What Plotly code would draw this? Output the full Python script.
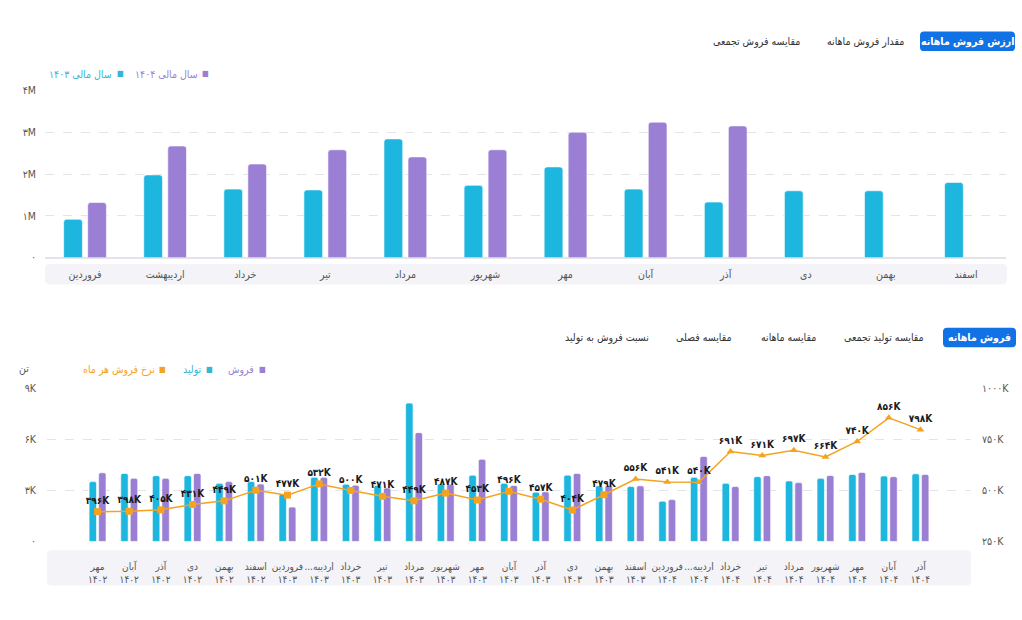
import plotly.graph_objects as go

W, H = 1022, 620
FONT = "DejaVu Sans Condensed, DejaVu Sans, sans-serif"

# ---------------- data ----------------
months_top = ["فروردین", "اردیبهشت", "خرداد", "تیر", "مرداد", "شهریور",
              "مهر", "آبان", "آذر", "دی", "بهمن", "اسفند"]
value_1403 = [0.92, 1.98, 1.64, 1.62, 2.84, 1.73, 2.17, 1.64, 1.33, 1.60, 1.60, 1.80]   # million
value_1404 = [1.32, 2.67, 2.24, 2.58, 2.41, 2.58, 3.00, 3.24, 3.15, None, None, None]
top_ticks = [0, 1, 2, 3, 4]

months_bottom = ["مهر", "آبان", "آذر", "دی", "بهمن", "اسفند",
                 "فروردین", "...اردیبه", "خرداد", "تیر", "مرداد", "شهریور", "مهر", "آبان", "آذر", "دی", "بهمن", "اسفند",
                 "فروردین", "...اردیبه", "خرداد", "تیر", "مرداد", "شهریور", "مهر", "آبان", "آذر"]
years_bottom = [1402] * 6 + [1403] * 12 + [1404] * 9
production = [3.52, 4.00, 3.87, 3.87, 3.42, 3.52, 2.79, 3.77, 3.37, 3.30, 8.14, 3.38, 3.90, 3.42,
              2.90, 3.90, 3.27, 3.23, 2.37, 3.77, 3.42, 3.81, 3.56, 3.71, 3.94, 3.85, 3.98]       # thousand ton
sales = [4.04, 3.71, 3.71, 4.00, 3.52, 3.38, 2.02, 3.77, 3.31, 3.15, 6.40, 3.37, 4.83, 3.29,
         2.92, 4.00, 3.29, 3.27, 2.46, 5.00, 3.23, 3.87, 3.46, 3.88, 4.06, 3.81, 3.94]
rate = [396, 398, 405, 431, 449, 501, 477, 532, 500, 471, 449, 487, 453, 496,
        457, 404, 479, 556, 541, 540, 691, 671, 697, 664, 740, 856, 798]                   # thousand
left_ticks = [0, 3, 6, 9]
right_ticks = [250, 500, 750, 1000]

# ---------------- styles ----------------
CYAN = "#1cb6df"
PURPLE = "#9a7fd4"
ORANGE = "#f5a31f"
BLUE = "#1172e6"
GRID = "#e3e3ea"
rate_symbols = ["square"] * 17 + ["triangle-up"] * 10

FA = str.maketrans("0123456789", "۰۱۲۳۴۵۶۷۸۹")


def fa(s):
    return str(s).translate(FA)


def px(x):
    return x / W


def py(y):
    return 1 - y / H


def rrect(x0, y0, x1, y1, r):
    rx, ry = r / W, r / H
    X0, X1, Y0, Y1 = px(x0), px(x1), py(y1), py(y0)
    return (f"M{X0+rx},{Y0} L{X1-rx},{Y0} Q{X1},{Y0} {X1},{Y0+ry} "
            f"L{X1},{Y1-ry} Q{X1},{Y1} {X1-rx},{Y1} L{X0+rx},{Y1} "
            f"Q{X0},{Y1} {X0},{Y1-ry} L{X0},{Y0+ry} Q{X0},{Y0} {X0+rx},{Y0} Z")


fig = go.Figure()

# ---------------- top chart ----------------
fig.add_trace(go.Bar(x=months_top, y=value_1403, name="سال مالی ۱۴۰۳", marker_color=CYAN,
                     marker_cornerradius=3, marker_line=dict(width=1, color="rgba(255,255,255,0.6)"),
                     xaxis="x", yaxis="y", showlegend=False))
fig.add_trace(go.Bar(x=months_top, y=value_1404, name="سال مالی ۱۴۰۴", marker_color=PURPLE,
                     marker_cornerradius=3, marker_line=dict(width=1, color="rgba(255,255,255,0.6)"),
                     xaxis="x", yaxis="y", showlegend=False))

# ---------------- bottom chart ----------------
cats_bottom = [f"{m}<br>{fa(y)}" for m, y in zip(months_bottom, years_bottom)]
fig.add_trace(go.Bar(x=cats_bottom, y=production, name="تولید", marker_color=CYAN,
                     marker_cornerradius=2, marker_line=dict(width=1, color="rgba(255,255,255,0.6)"),
                     xaxis="x2", yaxis="y2", showlegend=False))
fig.add_trace(go.Bar(x=cats_bottom, y=sales, name="فروش", marker_color=PURPLE,
                     marker_cornerradius=2, marker_line=dict(width=1, color="rgba(255,255,255,0.6)"),
                     xaxis="x2", yaxis="y2", showlegend=False))
fig.add_trace(go.Scatter(x=cats_bottom, y=rate, name="نرخ فروش هر ماه", mode="lines+markers+text",
                         line=dict(color=ORANGE, width=1.5),
                         marker=dict(color=ORANGE, size=7, symbol=rate_symbols),
                         text=[fa(v) + "K" for v in rate], textposition="top center",
                         textfont=dict(family=FONT, size=10, color="#1a1a1a", weight="bold"),
                         cliponaxis=False, xaxis="x2", yaxis="y3", showlegend=False))

axis_font = dict(family=FONT, size=10.5, color="#555")

fig.update_layout(
    width=W, height=H, margin=dict(l=0, r=0, t=0, b=0),
    paper_bgcolor="white", plot_bgcolor="white",
    barmode="group", bargap=0.4, bargroupgap=0.22,
    font=dict(family=FONT, size=11, color="#333"),
    xaxis=dict(domain=[px(45), px(1006)], anchor="y", type="category",
               showgrid=False, showline=False, zeroline=False, tickangle=0,
               ticks="outside", ticklen=7, tickcolor="rgba(0,0,0,0)", tickfont=axis_font),
    yaxis=dict(domain=[py(256.7), py(86)], anchor="x", range=[0, 4],
               tickvals=top_ticks, ticktext=[fa(v) + ("M" if v else "") for v in top_ticks],
               showgrid=True, gridcolor=GRID, griddash="dash", zeroline=True, zerolinecolor=GRID,
               zerolinewidth=1.5, ticks="", tickfont=axis_font, ticklabelstandoff=8),
    xaxis2=dict(domain=[px(47), px(971)], anchor="y2", type="category",
                showgrid=False, showline=False, zeroline=False, tickangle=0,
                ticks="outside", ticklen=16, tickcolor="rgba(0,0,0,0)",
                tickfont=dict(family=FONT, size=10, color="#555")),
    yaxis2=dict(domain=[py(546), py(390)], anchor="x2", range=[0, 9],
                tickvals=left_ticks, ticktext=[fa(v) + ("K" if v else "") for v in left_ticks],
                showgrid=True, gridcolor=GRID, griddash="dash", zeroline=False,
                ticks="", tickfont=axis_font, ticklabelstandoff=10),
    yaxis3=dict(overlaying="y2", anchor="x2", side="right", range=[250, 1000],
                tickvals=right_ticks, ticktext=[fa(v) + "K" for v in right_ticks],
                showgrid=False, zeroline=False, ticks="", tickfont=axis_font, ticklabelstandoff=10),
)

shapes = []
annotations = []

# label bands
shapes.append(dict(type="path", path=rrect(45, 263, 1007, 284, 5), xref="paper", yref="paper",
                   fillcolor="#f3f3f8", line_width=0, layer="below"))
shapes.append(dict(type="path", path=rrect(47, 555, 971, 591, 5), xref="paper", yref="paper",
                   fillcolor="#f3f3f8", line_width=0, layer="below"))


def button(x0, x1, yc, text, active):
    if active:
        shapes.append(dict(type="path", path=rrect(x0, yc - 10, x1, yc + 10, 4), xref="paper", yref="paper",
                           fillcolor=BLUE, line_width=0))
    annotations.append(dict(x=px((x0 + x1) / 2), y=py(yc), xref="paper", yref="paper", text=text,
                            showarrow=False, xanchor="center", yanchor="middle",
                            font=dict(family=FONT, size=10.5, color="white" if active else "#333",
                                      weight="bold" if active else "normal")))


# top buttons
button(920, 1015, 36, "ارزش فروش ماهانه", True)
button(826, 904, 36, "مقدار فروش ماهانه", False)
button(713, 800, 36, "مقایسه فروش تجمعی", False)
# bottom buttons
button(943, 1016, 338, "فروش ماهانه", True)
button(843, 925, 338, "مقایسه تولید تجمعی", False)
button(759, 817, 338, "مقایسه ماهانه", False)
button(676, 732, 338, "مقایسه فصلی", False)
button(565, 649, 338, "نسبت فروش به تولید", False)


def legend_item(x_sq, x_text_right, yc, text, color):
    annotations.append(dict(x=px(x_sq), y=py(yc), xref="paper", yref="paper", text="■",
                            showarrow=False, xanchor="center", yanchor="middle",
                            font=dict(family=FONT, size=8, color=color)))
    annotations.append(dict(x=px(x_text_right), y=py(yc), xref="paper", yref="paper", text=text,
                            showarrow=False, xanchor="right", yanchor="middle",
                            font=dict(family=FONT, size=10.5, color=color)))


legend_item(205, 200, 69, "سال مالی ۱۴۰۴", PURPLE)
legend_item(120, 114, 69, "سال مالی ۱۴۰۳", "#35b6d9")
legend_item(262, 256, 371, "فروش", PURPLE)
legend_item(209, 204, 371, "تولید", "#35b6d9")
legend_item(162, 157, 371, "نرخ فروش هر ماه", ORANGE)

annotations.append(dict(x=px(31), y=py(370), xref="paper", yref="paper", text="تن", showarrow=False,
                        xanchor="right", yanchor="middle", font=dict(family=FONT, size=10.5, color="#555")))

fig.update_layout(shapes=shapes, annotations=annotations)

fig.write_html("out.html")
